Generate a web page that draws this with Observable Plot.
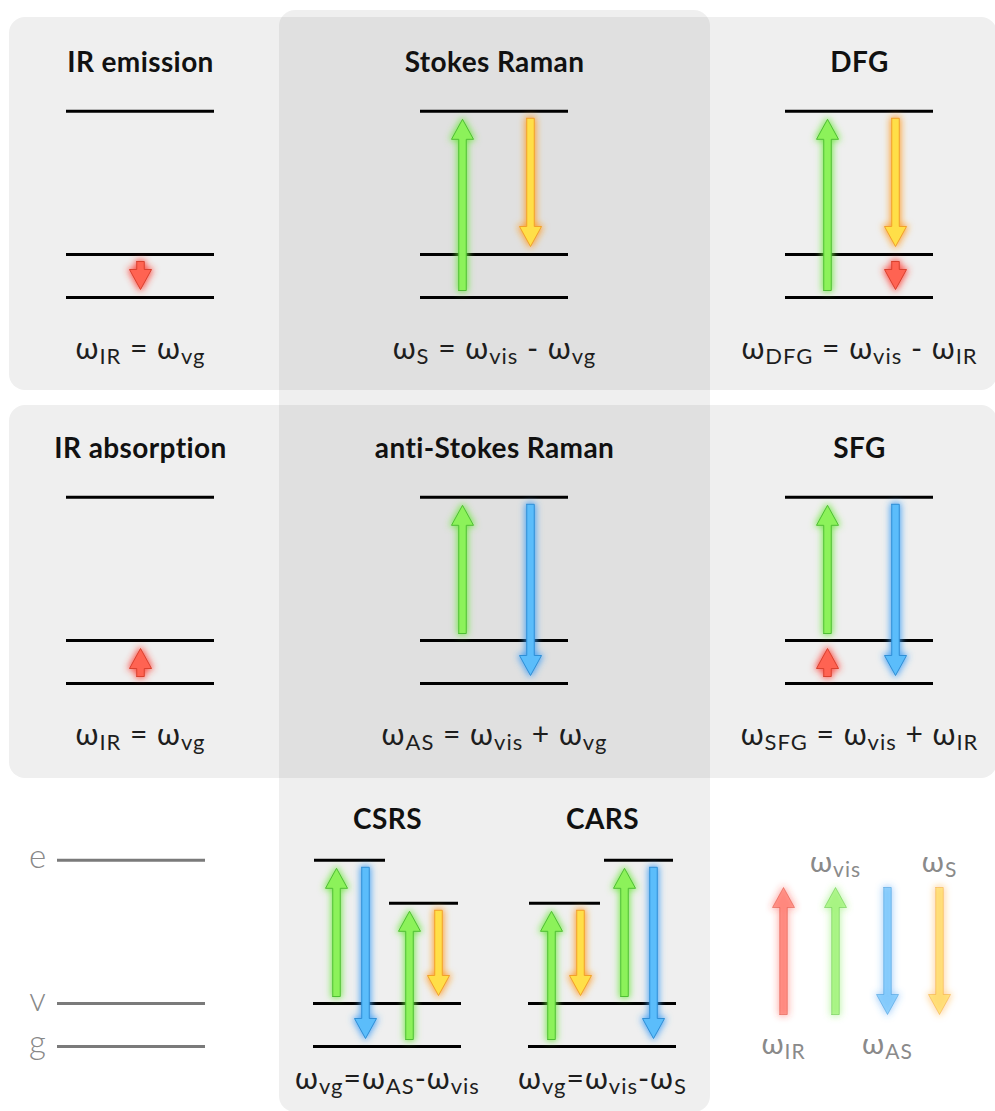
<!DOCTYPE html>
<html><head><meta charset="utf-8">
<script src="https://cdn.jsdelivr.net/npm/d3@7"></script>
<script src="https://cdn.jsdelivr.net/npm/@observablehq/plot@0.6"></script>
<style>
html,body{margin:0;padding:0;background:#fff;}
#chart svg{display:block;}
</style></head><body><div id="chart"></div>
<script>
// ---------------- data ----------------
const panelTitles = ["IR emission", "Stokes Raman", "DFG", "IR absorption", "anti-Stokes Raman", "SFG"];
const panelEquations = [
  "ω_{IR} = ω_{vg}", "ω_{S} = ω_{vis} - ω_{vg}", "ω_{DFG} = ω_{vis} - ω_{IR}",
  "ω_{IR} = ω_{vg}", "ω_{AS} = ω_{vis} + ω_{vg}", "ω_{SFG} = ω_{vis} + ω_{IR}"
];
const levelNames = ["e", "v", "g"];
const levelEnergies = [4.33, 1, 0];        // in units of the v–g spacing
const virtualEnergy = 3.33;
// [panel, slot, from level, to level, light]
const panelTransitions = [
  ["IR emission", "mid", "v", "g", "IR"],
  ["Stokes Raman", "left", "g", "e", "vis"],
  ["Stokes Raman", "right", "e", "v", "S"],
  ["DFG", "left", "g", "e", "vis"],
  ["DFG", "right", "e", "v", "S"],
  ["DFG", "right", "v", "g", "IR"],
  ["IR absorption", "mid", "g", "v", "IR"],
  ["anti-Stokes Raman", "left", "v", "e", "vis"],
  ["anti-Stokes Raman", "right", "e", "g", "AS"],
  ["SFG", "left", "v", "e", "vis"],
  ["SFG", "right", "e", "g", "AS"],
  ["SFG", "left", "g", "v", "IR"]
];
const coherentTitles = ["CSRS", "CARS"];
const coherentEquations = ["ω_{vg}=ω_{AS}-ω_{vis}", "ω_{vg}=ω_{vis}-ω_{S}"];
// [diagram, half, level]
const coherentShortLevels = [
  ["CSRS", "left", "e"], ["CSRS", "right", "virtual"],
  ["CARS", "left", "virtual"], ["CARS", "right", "e"]
];
// [diagram, half, position in half, from, to, light]
const coherentTransitions = [
  ["CSRS", "left", 0, "v", "e", "vis"],
  ["CSRS", "left", 1, "e", "g", "AS"],
  ["CSRS", "right", 0, "g", "virtual", "vis"],
  ["CSRS", "right", 1, "virtual", "v", "S"],
  ["CARS", "left", 0, "g", "virtual", "vis"],
  ["CARS", "left", 1, "virtual", "v", "S"],
  ["CARS", "right", 0, "v", "e", "vis"],
  ["CARS", "right", 1, "e", "g", "AS"]
];
const legendLights = ["IR", "vis", "AS", "S"];
const legendDirections = ["up", "up", "down", "down"];
const legendLabels = ["ω_{IR}", "ω_{vis}", "ω_{AS}", "ω_{S}"];
const legendLabelSide = ["below", "above", "below", "above"];

// ---------------- styles / layout ----------------
const lightColors = {
  IR:  {fill: "#ff6352", stroke: "#d9412f", glow: "#ff3b30"},
  vis: {fill: "#8cf25a", stroke: "#4fbf34", glow: "#6fe83f"},
  AS:  {fill: "#5bbdfb", stroke: "#2f8fd6", glow: "#3b9cf5"},
  S:   {fill: "#ffdf48", stroke: "#f2a12a", glow: "#ff9a1e"}
};
const W = 995, H = 1111;
const colX = [140, 494, 859];
const rowG = [297, 683, 1046];
const titleBase = [71, 457, 828];
const eqBase = [358, 744, 1088];
const unit = 43, halfLen = 74;
const slotDx = {mid: 0, left: -32, right: 36};
const coherentX = {CSRS: 387, CARS: 602};
const FONT = "Lato, 'Noto Sans', sans-serif";

const energy = n => n === "virtual" ? virtualEnergy : levelEnergies[levelNames.indexOf(n)];
const yLevel = (row, n) => rowG[row] - energy(n) * unit;

const hw = 3.75, HW = 11, HL = 20, GAP_TAIL = 7, GAP_TIP = 8;
let arrowId = 0;
function arrowPts(x, yA, yB, light, gaps = true) {
  const d = Math.sign(yB - yA);
  const y0 = gaps ? yA + d * GAP_TAIL : yA;
  const y1 = gaps ? yB - d * GAP_TIP : yB;
  const hb = y1 - d * HL;
  const id = arrowId++;
  return [[x - hw, y0], [x - hw, hb], [x - HW, hb], [x, y1], [x + HW, hb], [x + hw, hb], [x + hw, y0], [x - hw, y0]]
    .map(([px, py]) => ({id, x: px, y: py, light}));
}

// backgrounds
const rowPanels = [0, 1].map(r => ({x1: 9, x2: 997, y1: r === 0 ? 17 : 405, y2: r === 0 ? 390 : 778}));
const centerColumn = [{x1: 279, x2: 710, y1: 10, y2: 1112}];

// level lines
const levelSegs = [];
panelTitles.forEach((t, i) => {
  const row = Math.floor(i / 3), c = colX[i % 3];
  levelNames.forEach(n => levelSegs.push({x1: c - halfLen, x2: c + halfLen, y: yLevel(row, n)}));
});
coherentTitles.forEach(t => {
  const c = coherentX[t];
  ["v", "g"].forEach(n => levelSegs.push({x1: c - halfLen, x2: c + halfLen, y: yLevel(2, n)}));
});
coherentShortLevels.forEach(([t, half, n]) => {
  const c = coherentX[t];
  const [a, b] = half === "left" ? [c - 73, c - 2] : [c + 2, c + 71];
  levelSegs.push({x1: a, x2: b, y: yLevel(2, n)});
});
const keySegs = levelNames.map(n => ({x1: 57, x2: 205, y: yLevel(2, n), label: n}));

// arrows
let arrows = [];
panelTransitions.forEach(([p, slot, from, to, light]) => {
  const i = panelTitles.indexOf(p), row = Math.floor(i / 3), c = colX[i % 3];
  arrows = arrows.concat(arrowPts(c + slotDx[slot], yLevel(row, from), yLevel(row, to), light));
});
coherentTransitions.forEach(([t, half, k, from, to, light]) => {
  const c = coherentX[t];
  const hc = half === "left" ? c - 37 : c + 36;
  arrows = arrows.concat(arrowPts(hc + (k === 0 ? -14 : 15), yLevel(2, from), yLevel(2, to), light));
});
let legendArrows = [];
const legendTop = 887, legendBottom = 1014, legendX0 = 783, legendStep = 52;
legendLights.forEach((l, i) => {
  const x = legendX0 + i * legendStep;
  const up = legendDirections[i] === "up";
  legendArrows = legendArrows.concat(arrowPts(x, up ? legendBottom : legendTop, up ? legendTop : legendBottom, l, false));
});

// texts
const titleTexts = panelTitles.map((t, i) => ({x: colX[i % 3], y: titleBase[Math.floor(i / 3)], text: t}))
  .concat(coherentTitles.map(t => ({x: coherentX[t], y: titleBase[2], text: t})));
const eqTexts = panelEquations.map((t, i) => ({x: colX[i % 3], y: eqBase[Math.floor(i / 3)], text: t}))
  .concat(coherentEquations.map((t, i) => ({x: coherentX[coherentTitles[i]], y: eqBase[2], text: t})));
const legendTexts = legendLabels.map((t, i) => ({
  x: legendX0 + i * legendStep, y: legendLabelSide[i] === "above" ? legendTop - 16 : legendBottom + 39, text: t
}));

// ---------------- marks ----------------
const marks = [
  Plot.rect(rowPanels, {x1: "x1", x2: "x2", y1: "y1", y2: "y2", fill: "#efefef", rx: 16}),
  Plot.rect(centerColumn, {x1: "x1", x2: "x2", y1: "y1", y2: "y2", fill: "#000", fillOpacity: 0.063, rx: 16}),
  Plot.ruleY(levelSegs, {y: "y", x1: "x1", x2: "x2", stroke: "#000", strokeWidth: 3}),
  Plot.ruleY(keySegs, {y: "y", x1: "x1", x2: "x2", stroke: "#7a7a7a", strokeWidth: 3}),
  Plot.text(keySegs, {x: 37, y: "y", text: "label", fill: "#888", fontSize: 33, fontWeight: 300, fontFamily: FONT, dy: -3})
];
for (const l of Object.keys(lightColors)) {
  const c = lightColors[l];
  const pts = arrows.filter(d => d.light === l);
  marks.push(Plot.line(pts, {x: "x", y: "y", z: "id", fill: c.glow, stroke: c.glow, strokeWidth: 3, strokeOpacity: 0.9, fillOpacity: 0.9}));
  marks.push(Plot.line(pts, {x: "x", y: "y", z: "id", fill: c.fill, stroke: c.stroke, strokeWidth: 1}));
}
for (const l of Object.keys(lightColors)) {
  const c = lightColors[l];
  const pts = legendArrows.filter(d => d.light === l);
  marks.push(Plot.line(pts, {x: "x", y: "y", z: "id", fill: c.glow, stroke: c.glow, strokeWidth: 3, strokeOpacity: 0.35, fillOpacity: 0.35}));
  marks.push(Plot.line(pts, {x: "x", y: "y", z: "id", fill: c.fill, stroke: c.stroke, strokeWidth: 1, fillOpacity: 0.55, strokeOpacity: 0.45}));
}
marks.push(
  Plot.text(titleTexts, {x: "x", y: "y", text: "text", lineAnchor: "bottom", fontSize: 28, fontWeight: "bold", fill: "#111", fontFamily: FONT}),
  Plot.text(eqTexts, {x: "x", y: "y", text: "text", lineAnchor: "bottom", fontSize: 30, fill: "#1e1e1e", fontFamily: FONT}),
  Plot.text(legendTexts, {x: "x", y: "y", text: "text", lineAnchor: "bottom", fontSize: 29, fill: "#8a8a8a", fontFamily: FONT})
);

const svg = Plot.plot({
  width: W, height: H, margin: 0,
  x: {domain: [0, W], range: [0, W], axis: null},
  y: {domain: [0, H], range: [0, H], axis: null},
  style: {background: "#fff", fontFamily: FONT},
  marks
});

const s = d3.select(svg);
// glow filter
const defs = s.insert("defs", ":first-child");
const f = defs.append("filter").attr("id", "glow").attr("x", "-30%").attr("y", "-30%").attr("width", "160%").attr("height", "160%");
f.append("feGaussianBlur").attr("in", "SourceGraphic").attr("stdDeviation", 3.5);
const glowSet = new Set(Object.values(lightColors).map(c => c.glow));
s.selectAll("g").filter(function () { return glowSet.has(this.getAttribute("fill")); }).attr("filter", "url(#glow)");

// letter spacing for the wider reference typeface
s.selectAll('g[font-weight="bold"] text').style("letter-spacing", "0.4px");
s.selectAll('g[font-size="30"] text, g[font-size="29"] text').style("letter-spacing", "1px");

// subscripts
s.selectAll("text").each(function () {
  const str = this.textContent;
  if (!str.includes("_{")) return;
  const main = +(this.parentNode.getAttribute("font-size") || 30);
  const sub = Math.round(main * 0.74), shift = 5;
  while (this.firstChild) this.removeChild(this.firstChild);
  this.style.whiteSpace = "pre";
  const re = /_\{([^}]*)\}/g;
  let last = 0, m, lowered = false;
  const add = (txt, isSub) => {
    if (!txt) return;
    const t = document.createElementNS("http://www.w3.org/2000/svg", "tspan");
    t.textContent = txt;
    if (isSub) { t.setAttribute("font-size", sub); if (!lowered) t.setAttribute("dy", shift); lowered = true; }
    else if (lowered) { t.setAttribute("dy", -shift); lowered = false; }
    this.appendChild(t);
  };
  while ((m = re.exec(str))) { add(str.slice(last, m.index), false); add(m[1], true); last = re.lastIndex; }
  add(str.slice(last), false);
});

document.getElementById("chart").appendChild(svg);
</script></body></html>
